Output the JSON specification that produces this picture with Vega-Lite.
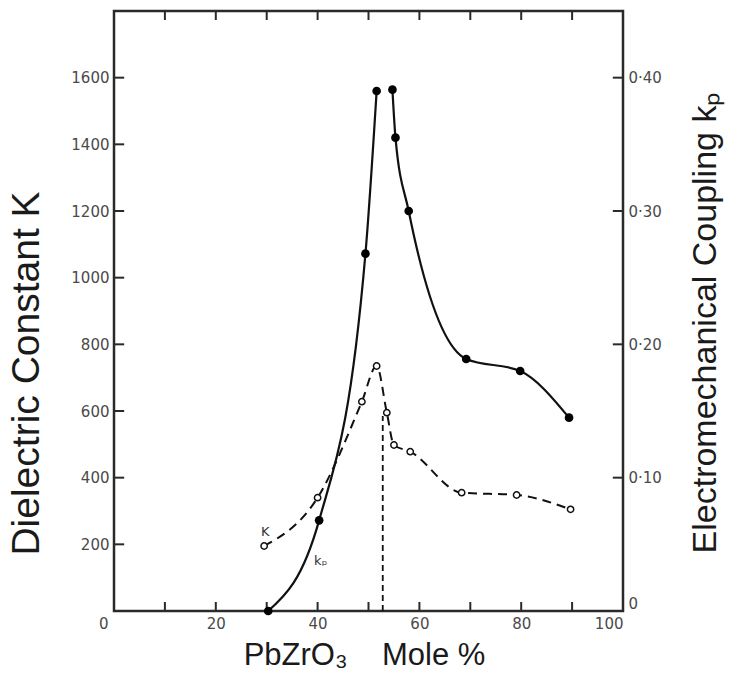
{
  "$schema": "https://vega.github.io/schema/vega-lite/v6.json",
  "width": 509,
  "height": 600,
  "autosize": {"type": "none"},
  "padding": {"left": 114, "top": 11, "right": 111, "bottom": 63},
  "background": "white",
  "config": {
    "view": {"stroke": "#2a2a2a", "strokeWidth": 2.5, "fill": null},
    "axis": {
      "grid": false,
      "ticks": false,
      "domain": false,
      "labelFont": "DejaVu Sans",
      "labelFontSize": 15,
      "labelColor": "#4a4a4a",
      "titleFont": "Liberation Sans",
      "titleFontWeight": "normal",
      "titleColor": "#1a1a1a"
    }
  },
  "datasets": {
    "K": [
      {"mole": 29.5, "K": 195},
      {"mole": 40.0, "K": 340},
      {"mole": 48.7, "K": 628},
      {"mole": 51.6, "K": 735},
      {"mole": 53.6, "K": 595},
      {"mole": 55.0, "K": 498},
      {"mole": 58.2, "K": 478},
      {"mole": 68.3, "K": 355},
      {"mole": 79.1, "K": 348},
      {"mole": 89.7, "K": 305}
    ],
    "kp": [
      {"mole": 30.3, "kp": 0.0, "seg": "a"},
      {"mole": 40.3, "kp": 0.068, "seg": "a"},
      {"mole": 49.4, "kp": 0.268, "seg": "a"},
      {"mole": 51.6, "kp": 0.390, "seg": "a"},
      {"mole": 54.7, "kp": 0.391, "seg": "b"},
      {"mole": 55.3, "kp": 0.355, "seg": "b"},
      {"mole": 57.9, "kp": 0.300, "seg": "b"},
      {"mole": 69.2, "kp": 0.189, "seg": "b"},
      {"mole": 79.8, "kp": 0.180, "seg": "b"},
      {"mole": 89.4, "kp": 0.145, "seg": "b"}
    ],
    "boundary": [{"mole": 52.8, "K0": 0, "K1": 585}],
    "labels": [
      {"mole": 29.7, "K": 238, "text": "K"},
      {"mole": 40.6, "K": 150, "text": "kₚ"}
    ],
    "xticks": [{"v": 10}, {"v": 20}, {"v": 30}, {"v": 40}, {"v": 50}, {"v": 60}, {"v": 70}, {"v": 80}, {"v": 90}],
    "kticks": [
      {"v": 200, "from": 0, "to": 2}, {"v": 400, "from": 0, "to": 2}, {"v": 600, "from": 0, "to": 2}, {"v": 800, "from": 0, "to": 2},
      {"v": 1000, "from": 0, "to": 2}, {"v": 1200, "from": 0, "to": 2}, {"v": 1400, "from": 0, "to": 2}, {"v": 1600, "from": 0, "to": 2}
    ],
    "kpticks": [
      {"v": 0.1, "from": 100, "to": 98}, {"v": 0.2, "from": 100, "to": 98},
      {"v": 0.3, "from": 100, "to": 98}, {"v": 0.4, "from": 100, "to": 98}
    ]
  },
  "layer": [
    {
      "layer": [
        {
          "data": {"name": "K"},
          "mark": {"type": "line", "interpolate": "monotone", "strokeDash": [9, 6], "color": "#111", "strokeWidth": 2},
          "encoding": {
            "x": {
              "field": "mole", "type": "quantitative",
              "scale": {"domain": [0, 100], "nice": false, "zero": false},
              "axis": {
                "orient": "bottom",
                "values": [0, 20, 40, 60, 80, 100],
                "labelPadding": 5,
                "labelAlign": {"condition": {"test": "datum.value == 0 || datum.value == 100", "value": "right"}, "value": "center"},
                "labelOffset": {"condition": {"test": "datum.value == 0", "value": -6}, "value": 0},
                "title": "PbZrO₃\u00a0\u00a0\u00a0\u00a0Mole %",
                "titleFontSize": 31,
                "titleX": 250,
                "titleY": 44,
                "titleAlign": "center",
                "titleBaseline": "middle"
              }
            },
            "y": {
              "field": "K", "type": "quantitative",
              "scale": {"domain": [0, 1800], "nice": false},
              "axis": {
                "orient": "left",
                "values": [200, 400, 600, 800, 1000, 1200, 1400, 1600],
                "format": "d",
                "labelPadding": 5,
                "title": "Dielectric Constant K",
                "titleFontSize": 39,
                "titleAngle": 270,
                "titleX": -88,
                "titleY": 362,
                "titleAlign": "center",
                "titleBaseline": "middle"
              }
            }
          }
        },
        {
          "data": {"name": "K"},
          "mark": {"type": "point", "filled": true, "fill": "white", "stroke": "#111", "strokeWidth": 1.5, "size": 40, "opacity": 1},
          "encoding": {
            "x": {"field": "mole", "type": "quantitative"},
            "y": {"field": "K", "type": "quantitative"}
          }
        },
        {
          "data": {"name": "boundary"},
          "mark": {"type": "rule", "strokeDash": [6, 4], "color": "#111", "strokeWidth": 1.8},
          "encoding": {
            "x": {"field": "mole", "type": "quantitative"},
            "y": {"field": "K0", "type": "quantitative"},
            "y2": {"field": "K1"}
          }
        },
        {
          "data": {"name": "labels"},
          "mark": {"type": "text", "font": "DejaVu Sans", "fontSize": 13, "color": "#333"},
          "encoding": {
            "x": {"field": "mole", "type": "quantitative"},
            "y": {"field": "K", "type": "quantitative"},
            "text": {"field": "text"}
          }
        },
        {
          "data": {"name": "xticks"},
          "mark": {"type": "rule", "color": "#2a2a2a", "strokeWidth": 2, "y2Offset": -9},
          "encoding": {
            "x": {"field": "v", "type": "quantitative"},
            "y": {"datum": 0, "type": "quantitative"},
            "y2": {"datum": 0}
          }
        },
        {
          "data": {"name": "xticks"},
          "mark": {"type": "rule", "color": "#2a2a2a", "strokeWidth": 2, "y2Offset": 9},
          "encoding": {
            "x": {"field": "v", "type": "quantitative"},
            "y": {"datum": 1800, "type": "quantitative"},
            "y2": {"datum": 1800}
          }
        },
        {
          "data": {"name": "kticks"},
          "mark": {"type": "rule", "color": "#2a2a2a", "strokeWidth": 2},
          "encoding": {
            "y": {"field": "v", "type": "quantitative"},
            "x": {"field": "from", "type": "quantitative"},
            "x2": {"field": "to"}
          }
        }
      ]
    },
    {
      "layer": [
        {
          "data": {"name": "kp"},
          "mark": {"type": "line", "interpolate": "monotone", "color": "#111", "strokeWidth": 2.2},
          "encoding": {
            "x": {"field": "mole", "type": "quantitative", "axis": null},
            "y": {
              "field": "kp", "type": "quantitative",
              "scale": {"domain": [0, 0.45], "nice": false},
              "axis": {
                "orient": "right",
                "values": [0, 0.1, 0.2, 0.3, 0.4],
                "labelExpr": "datum.value == 0 ? '0' : replace(format(datum.value, '.2f'), '.', '·')",
                "labelPadding": 5,
                "labelBaseline": {"condition": {"test": "datum.value == 0", "value": "bottom"}, "value": "middle"},
                "title": "Electromechanical Coupling kₚ",
                "titleFontSize": 34,
                "titleAngle": 270,
                "titleX": 82,
                "titleY": 311,
                "titleAlign": "center",
                "titleBaseline": "middle"
              }
            },
            "detail": {"field": "seg"}
          }
        },
        {
          "data": {"name": "kp"},
          "mark": {"type": "point", "filled": true, "color": "#000", "size": 75, "opacity": 1},
          "encoding": {
            "x": {"field": "mole", "type": "quantitative"},
            "y": {"field": "kp", "type": "quantitative"}
          }
        },
        {
          "data": {"name": "kpticks"},
          "mark": {"type": "rule", "color": "#2a2a2a", "strokeWidth": 2},
          "encoding": {
            "y": {"field": "v", "type": "quantitative"},
            "x": {"field": "from", "type": "quantitative"},
            "x2": {"field": "to"}
          }
        }
      ]
    }
  ],
  "resolve": {"scale": {"y": "independent"}, "axis": {"x": "independent"}}
}
